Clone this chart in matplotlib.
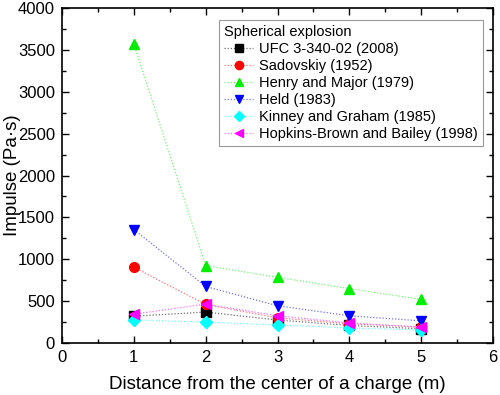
import matplotlib
matplotlib.use("Agg")
import matplotlib.pyplot as plt
from matplotlib.ticker import MultipleLocator

plt.rcParams['font.family'] = ['Liberation Sans', 'DejaVu Sans']

distance = [1, 2, 3, 4, 5]
ufc = [320, 370, 275, 210, 170]
sadovskiy = [905, 460, 300, 230, 190]
henry_major = [3570, 925, 785, 650, 520]
held = [1355, 675, 445, 325, 265]
kinney_graham = [275, 250, 215, 180, 155]
hopkins_brown = [345, 465, 325, 240, 190]

series = [
    ("UFC 3-340-02 (2008)", ufc, "black", "s"),
    ("Sadovskiy (1952)", sadovskiy, "red", "o"),
    ("Henry and Major (1979)", henry_major, "#00ee00", "^"),
    ("Held (1983)", held, "blue", "v"),
    ("Kinney and Graham (1985)", kinney_graham, "cyan", "D"),
    ("Hopkins-Brown and Bailey (1998)", hopkins_brown, "magenta", "<"),
]

fig = plt.figure(figsize=(5, 3.95), dpi=100)
ax = fig.add_axes([0.124, 0.1316, 0.862, 0.848])

for label, vals, color, marker in series:
    ms = 6 if marker == "D" else 7
    c = matplotlib.colors.to_rgba(color)
    light = tuple(1 - 0.55 * (1 - v) for v in c[:3]) + (1,)
    ax.plot(distance, vals, linestyle=(0, (1, 1.5)), linewidth=0.9,
            color=light, marker=marker, markersize=ms,
            markerfacecolor=c, markeredgecolor=c, label=label)

ax.set_xlim(0, 6)
ax.set_ylim(0, 4000)
ax.xaxis.set_major_locator(MultipleLocator(1))
ax.xaxis.set_minor_locator(MultipleLocator(0.5))
ax.yaxis.set_major_locator(MultipleLocator(500))
ax.yaxis.set_minor_locator(MultipleLocator(250))
ax.tick_params(which='both', direction='in', top=True, right=True, labelsize=12)
ax.tick_params(which='major', length=5, width=1, pad=5)
ax.tick_params(which='minor', length=3, width=1)
for sp in ax.spines.values():
    sp.set_linewidth(1.2)

ax.set_xlabel("Distance from the center of a charge (m)", fontsize=13.5, labelpad=8)
ax.set_ylabel("Impulse (Pa·s)", fontsize=13.5)
ax.yaxis.set_label_coords(-0.095, 0.5)

leg = ax.legend(title="Spherical explosion", loc='upper right',
                bbox_to_anchor=(0.977, 0.964), borderaxespad=0,
                fontsize=10.5, title_fontsize=10.5,
                frameon=True, fancybox=False, edgecolor='gray',
                handlelength=2.0, handletextpad=0.4, labelspacing=0.2,
                borderpad=0.35, markerscale=0.85)
leg._legend_box.align = "left"
leg.get_frame().set_linewidth(0.8)

fig.savefig("out.png", dpi=100)
